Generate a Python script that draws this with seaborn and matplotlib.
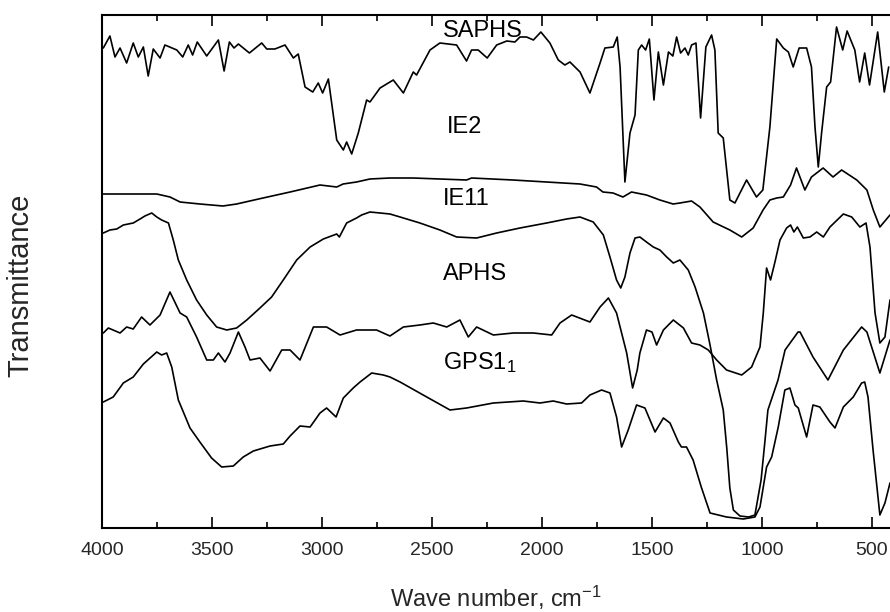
import matplotlib
matplotlib.use("Agg")
import matplotlib.pyplot as plt
import seaborn as sns
from matplotlib.ticker import MultipleLocator

# ---------------- data ----------------
# wavenumbers (cm^-1) and transmittance (arbitrary, vertically offset units)
saphs_wn = [3994, 3964, 3941, 3918, 3888, 3858, 3835, 3812, 3790, 3767, 3736, 3714, 3660, 3633,
            3608, 3588, 3567, 3524, 3471, 3445, 3421, 3400, 3380, 3330, 3274, 3251, 3214, 3168,
            3130, 3108, 3077, 3042, 3017, 2997, 2971, 2933, 2903, 2888, 2865, 2835, 2797, 2782,
            2736, 2676, 2630, 2585, 2570, 2509, 2464, 2388, 2343, 2320, 2290, 2249, 2206, 2160,
            2123, 2100, 2070, 2039, 2005, 1964, 1926, 1896, 1873, 1827, 1782, 1736, 1714, 1676,
            1658, 1645, 1623, 1600, 1577, 1562, 1547, 1529, 1512, 1491, 1471, 1448, 1425, 1405,
            1388, 1370, 1350, 1335, 1320, 1300, 1279, 1255, 1229, 1214, 1199, 1176, 1146, 1123,
            1070, 1025, 996, 964, 933, 903, 880, 858, 831, 797, 775, 759, 744, 729, 706, 688,
            661, 633, 613, 578, 556, 533, 511, 474, 444, 424]
saphs_t = [480, 492, 471, 480, 465, 485, 471, 481, 452, 479, 470, 483, 478, 471,
           483, 473, 486, 472, 488, 457, 486, 480, 484, 475, 485, 479, 479, 483,
           470, 474, 441, 436, 445, 435, 449, 388, 378, 386, 374, 395, 428, 426,
           440, 448, 435, 456, 453, 478, 485, 483, 467, 478, 478, 470, 483, 487,
           486, 491, 491, 488, 496, 485, 468, 463, 466, 456, 435, 465, 480, 481,
           491, 461, 346, 395, 413, 478, 483, 478, 489, 428, 476, 443, 476, 472,
           491, 475, 480, 473, 483, 485, 410, 481, 493, 478, 395, 390, 328, 325,
           348, 331, 338, 401, 489, 480, 476, 461, 480, 480, 461, 401, 361, 395, 441, 446,
           501, 478, 497, 478, 446, 475, 443, 496, 436, 461]

ie2_wn = [3994, 3751, 3691, 3645, 3555, 3450, 3388, 3268, 3145, 3009, 2933, 2904, 2843, 2782,
          2691, 2586, 2343, 2320, 2132, 1827, 1752, 1723, 1677, 1632, 1593, 1525, 1464, 1404,
          1373, 1320, 1282, 1222, 1146, 1092, 1040, 995, 964, 933, 903, 870, 843, 805, 775,
          722, 677, 638, 569, 523, 494, 464, 418]
ie2_t = [334, 334, 331, 326, 324, 322, 324, 330, 336, 343, 341, 344, 346, 349,
         350, 350, 348, 350, 348, 344, 341, 336, 335, 331, 336, 333, 328, 324,
         325, 327, 321, 306, 298, 291, 300, 318, 328, 330, 331, 343, 360, 338, 351,
         360, 351, 358, 348, 338, 318, 301, 313]

ie11_wn = [3994, 3964, 3933, 3903, 3858, 3827, 3805, 3774, 3751, 3729, 3698, 3676, 3653, 3615,
           3570, 3524, 3479, 3433, 3388, 3342, 3282, 3229, 3176, 3115, 3054, 2994, 2933, 2921,
           2888, 2843, 2820, 2782, 2736, 2691, 2645, 2555, 2464, 2388, 2297, 2206, 2100, 1979,
           1888, 1827, 1767, 1721, 1691, 1661, 1642, 1623, 1600, 1577, 1555, 1525, 1494, 1464,
           1433, 1403, 1373, 1335, 1304, 1266, 1236, 1206, 1176, 1160, 1146, 1130, 1100, 1060,
           1032, 1004, 986, 973, 927, 895, 836, 827, 768, 700, 630, 547, 523, 464, 418]
ie11_t = [295, 298, 299, 303, 305, 309, 312, 315, 311, 308, 305, 288, 268, 248,
          228, 213, 201, 198, 200, 208, 220, 231, 248, 268, 281, 289, 294, 291,
          305, 310, 313, 316, 315, 314, 311, 305, 298, 291, 290, 295, 300, 305,
          309, 311, 306, 293, 271, 248, 240, 251, 275, 290, 291, 286, 281, 278,
          271, 265, 268, 258, 241, 215, 183, 148, 118, 80, 40, 18, 12, 11,
          13, 48, 88, 118, 148, 178, 196, 196, 171, 148, 178, 201, 196, 155, 188]

aphs_wn = [3994, 3971, 3918, 3888, 3858, 3820, 3782, 3736, 3691, 3645, 3615, 3570, 3524, 3494,
           3471, 3441, 3418, 3380, 3350, 3327, 3282, 3236, 3183, 3145, 3100, 3039, 2979, 2918,
           2843, 2752, 2691, 2630, 2555, 2494, 2433, 2373, 2335, 2297, 2221, 2130, 2039, 1956,
           1918, 1865, 1782, 1736, 1698, 1661, 1615, 1588, 1567, 1555, 1525, 1500, 1479, 1448,
           1403, 1357, 1320, 1282, 1244, 1206, 1161, 1092, 1047, 1009, 994, 979, 961, 941, 918,
           888, 870, 855, 839, 812, 782, 751, 721, 691, 630, 592, 555, 527, 509, 486, 464, 441, 418]
aphs_t = [195, 200, 195, 201, 199, 211, 203, 213, 236, 215, 211, 191, 168, 168,
          175, 166, 175, 196, 181, 168, 170, 157, 178, 178, 168, 201, 201, 193,
          198, 198, 192, 201, 203, 205, 201, 208, 191, 201, 193, 195, 195, 193,
          205, 213, 206, 221, 230, 215, 175, 140, 158, 175, 198, 196, 183, 198,
          208, 200, 185, 183, 178, 168, 158, 153, 161, 181, 215, 260, 248, 266, 288,
          300, 303, 296, 301, 290, 291, 296, 291, 301, 314, 311, 301, 305, 281, 215, 185, 191, 228]

gps_wn = [3994, 3949, 3903, 3858, 3812, 3751, 3729, 3706, 3683, 3653, 3600, 3555, 3502, 3456,
          3403, 3358, 3312, 3236, 3176, 3145, 3100, 3054, 3009, 2979, 2936, 2903, 2858, 2827,
          2774, 2721, 2691, 2645, 2540, 2418, 2343, 2221, 2085, 2009, 1949, 1888, 1820, 1782,
          1729, 1691, 1661, 1638, 1608, 1570, 1532, 1486, 1448, 1418, 1380, 1366, 1343, 1313,
          1276, 1236, 1161, 1085, 1032, 1009, 979, 956, 926, 896, 873, 850, 835, 797, 768,
          737, 691, 668, 630, 585, 547, 533, 518, 495, 464, 441, 418]
gps_t = [126, 131, 145, 151, 164, 176, 173, 175, 161, 128, 100, 86, 70, 61,
         62, 71, 77, 82, 84, 92, 102, 101, 115, 120, 111, 130, 140, 146,
         155, 153, 151, 146, 133, 118, 120, 125, 127, 125, 127, 124, 125, 133,
         138, 135, 111, 81, 98, 123, 120, 96, 110, 105, 86, 81, 81, 68,
         41, 15, 11, 9, 11, 21, 61, 71, 101, 138, 140, 123, 120, 91, 123,
         121, 106, 100, 121, 131, 145, 146, 131, 78, 13, 25, 45]

xtick_values = [4000, 3500, 3000, 2500, 2000, 1500, 1000, 500]

# ---------------- styling ----------------
sns.set_style("ticks")
plt.rcParams["font.family"] = ["Liberation Sans", "DejaVu Sans"]
plt.rcParams["mathtext.fontset"] = "custom"
plt.rcParams["mathtext.rm"] = "Liberation Sans"
plt.rcParams["mathtext.it"] = "Liberation Sans:italic"
plt.rcParams["mathtext.bf"] = "Liberation Sans:bold"

fig = plt.figure(figsize=(8.9, 6.12), dpi=100)
ax = fig.add_axes([102 / 890, 1 - 528 / 612, 788 / 890, 513 / 612])

series = [(saphs_wn, saphs_t), (ie2_wn, ie2_t), (ie11_wn, ie11_t),
          (aphs_wn, aphs_t), (gps_wn, gps_t)]
for wn, t in series:
    sns.lineplot(x=wn, y=t, ax=ax, color="black", linewidth=1.2,
                 sort=False, estimator=None, legend=False)

ax.set_xlim(4000, 418)
ax.set_ylim(0, 513)
ax.set_xticks(xtick_values)
ax.xaxis.set_minor_locator(MultipleLocator(250))
ax.set_yticks([])
ax.tick_params(axis="x", which="both", direction="in", top=True, bottom=True,
               labelsize=14, pad=10, width=1.2, color="black")
ax.tick_params(axis="x", which="major", length=8)
ax.tick_params(axis="x", which="minor", length=4)
ax.spines["right"].set_visible(False)
for s in ["left", "bottom", "top"]:
    ax.spines[s].set_linewidth(1.5)
    ax.spines[s].set_color("black")

ax.set_xlabel("Wave number, cm$^{-1}$", fontsize=17)
ax.xaxis.set_label_coords(0.5, -0.108)
ax.set_ylabel("Transmittance", fontsize=21)
ax.yaxis.set_label_coords(-0.086, 0.474)

labels = ["SAPHS", "IE2", "IE11", "APHS", "GPS1$_1$"]
label_pos = [(2450, 491), (2432, 395), (2450, 323), (2450, 248), (2450, 159)]
for txt, (lx, ly) in zip(labels, label_pos):
    ax.text(lx, ly, txt, fontsize=17, ha="left", va="baseline", color="black")

fig.savefig("out.png", dpi=100)
